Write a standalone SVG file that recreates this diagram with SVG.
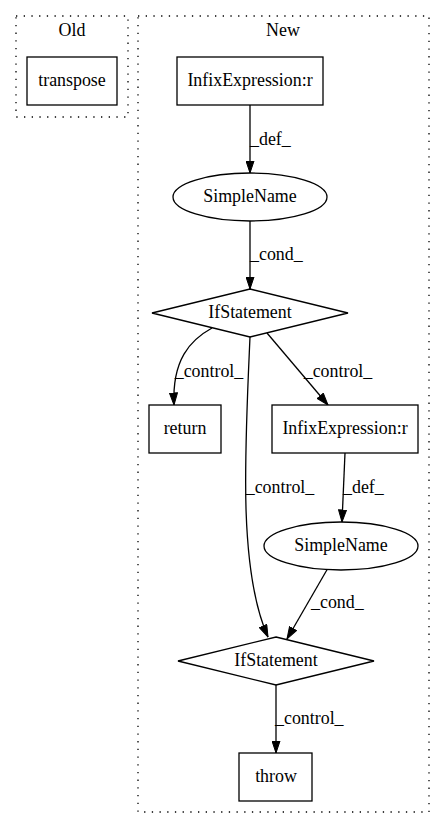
<svg xmlns="http://www.w3.org/2000/svg" width="445" height="828" viewBox="0 0 445 828">
<style>
text{font-family:"Liberation Serif","Times New Roman",serif;font-size:17.9px;fill:#000}
.c{text-anchor:middle}
.cl{fill:none;stroke:#000;stroke-width:1.3;stroke-dasharray:1.3,6.4}
.n{fill:#fff;stroke:#000;stroke-width:1.3}
.e{fill:none;stroke:#000;stroke-width:1.3}
</style>
<defs>
<marker id="ah" viewBox="0 0 13 9" refX="12.5" refY="4.5" markerWidth="13" markerHeight="9" markerUnits="userSpaceOnUse" orient="auto">
<path d="M0.5,0.5 L12.5,4.5 L0.5,8.5 Z" fill="#000" stroke="#000" stroke-width="1"/>
</marker>
</defs>
<rect width="445" height="828" fill="#fff"/>
<g id="cluster_old">
<rect class="cl" x="16" y="16" width="112" height="101"/>
<text class="c" x="72" y="36">Old</text>
</g>
<g id="cluster_new">
<rect class="cl" x="138" y="16" width="291" height="796"/>
<text class="c" x="283" y="36">New</text>
</g>
<g id="edges">
<path class="e" d="M250,105 L250,173" marker-end="url(#ah)"/>
<text x="250" y="145">_def_</text>
<path class="e" d="M250,221 L250,289" marker-end="url(#ah)"/>
<text x="250" y="260">_cond_</text>
<path class="e" d="M212,328 C190,340 172,360 174,405" marker-end="url(#ah)"/>
<text class="c" x="209" y="377">_control_</text>
<path class="e" d="M267,333 L328,405" marker-end="url(#ah)"/>
<text class="c" x="338" y="377">_control_</text>
<path class="e" d="M250,337 C245,450 238,570 268,637" marker-end="url(#ah)"/>
<text class="c" x="280" y="493">_control_</text>
<path class="e" d="M345,453 L342,522" marker-end="url(#ah)"/>
<text x="343" y="493">_def_</text>
<path class="e" d="M328,568 L287,639" marker-end="url(#ah)"/>
<text x="311" y="608">_cond_</text>
<path class="e" d="M276,684 L276,753" marker-end="url(#ah)"/>
<text x="275" y="724">_control_</text>
</g>
<g id="transpose">
<rect class="n" x="27" y="57" width="90" height="48"/>
<text class="c" x="72" y="86">transpose</text>
</g>
<g id="infix1">
<rect class="n" x="177" y="57" width="146" height="48"/>
<text class="c" x="250" y="86">InfixExpression:r</text>
</g>
<g id="simplename1">
<ellipse class="n" cx="250" cy="197" rx="77" ry="24"/>
<text class="c" x="250" y="202">SimpleName</text>
</g>
<g id="if1">
<polygon class="n" points="250,289 348,313 250,337 152,313"/>
<text class="c" x="250" y="318">IfStatement</text>
</g>
<g id="return">
<rect class="n" x="149" y="405" width="72" height="48"/>
<text class="c" x="185" y="434">return</text>
</g>
<g id="infix2">
<rect class="n" x="272" y="405" width="146" height="48"/>
<text class="c" x="345" y="434">InfixExpression:r</text>
</g>
<g id="simplename2">
<ellipse class="n" cx="341" cy="546" rx="77" ry="24"/>
<text class="c" x="341" y="551">SimpleName</text>
</g>
<g id="if2">
<polygon class="n" points="276,637 374,661 276,685 178,661"/>
<text class="c" x="276" y="666">IfStatement</text>
</g>
<g id="throw">
<rect class="n" x="239" y="753" width="73" height="48"/>
<text class="c" x="276" y="782">throw</text>
</g>
</svg>
